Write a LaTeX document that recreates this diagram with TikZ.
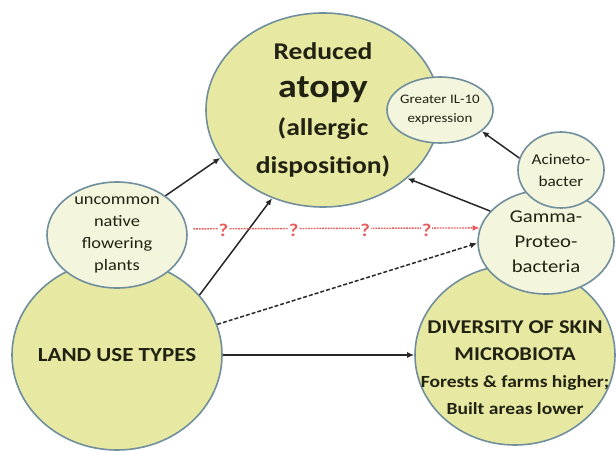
\documentclass[tikz,border=0pt]{standalone}
\usepackage{fontspec}
\setmainfont{Carlito}[FakeStretch=1.15]
\usetikzlibrary{shapes.geometric,arrows.meta,positioning}
\definecolor{edgeblue}{RGB}{112,142,156}
\definecolor{bigfill}{RGB}{231,233,163}
\definecolor{smallfill}{RGB}{243,245,220}
\definecolor{inkdark}{RGB}{34,34,18}
\definecolor{arrowgray}{RGB}{40,40,40}
\definecolor{qred}{RGB}{232,92,92}
\newcommand{\fs}[2]{\fontsize{#1}{#2}\selectfont}
\tikzset{
  bigcirc/.style={ellipse, draw=edgeblue, fill=bigfill, line width=1.6pt,
    inner sep=-15pt, text=inkdark, align=center},
  smallcirc/.style={bigcirc, fill=smallfill},
  link/.style={-{Latex[length=7pt,width=6pt]}, line width=1.5pt, draw=arrowgray},
  qline/.style={-{Latex[length=7pt,width=6pt]}, line width=1.4pt, draw=qred,
    dash pattern=on 1.8pt off 1pt},
  qmark/.style={text=qred, fill=white, inner sep=.8pt, yshift=-2pt,
    font=\bfseries\fs{18}{18}}
}
\begin{document}
\begin{tikzpicture}[x=1pt,y=-1pt]
  \useasboundingbox (0,0) rectangle (616,450);
  \node[bigcirc, minimum width=200pt, minimum height=180pt] (skin) at (515,355) {};
  \node[text=inkdark, align=center, font=\bfseries\fs{19.5}{27}] (skintext)
    at ([yshift=-13pt]skin.center)
    {DIVERSITY OF SKIN\\ MICROBIOTA\\ {\fs{17}{23}Forests \& farms higher;}\\
     {\fs{17}{23}Built areas lower}};
  \node[smallcirc, minimum width=136pt, minimum height=104pt, font=\fs{18}{25}]
    (gamma) at (546,242) {Gamma-\\ Proteo-\\ bacteria};
  \node[smallcirc, minimum width=86pt, minimum height=76pt, font=\fs{15}{22}]
    (acineto) at (561,170) {Acineto-\\ bacter};
  \node[bigcirc, minimum width=210pt, minimum height=190pt, font=\bfseries\fs{20}{24}]
    (landuse) at (117,355) {LAND USE TYPES};
  \node[smallcirc, minimum width=140pt, minimum height=106pt, font=\fs{16}{22}]
    (uncommon) at (117,235) {uncommon\\ native\\ flowering\\ plants};
  \node[bigcirc, minimum width=234pt, minimum height=194pt, font=\bfseries\fs{24}{38}]
    (atopy) at (323,110) {Reduced\\ {\fs{33}{38}atopy}\\ (allergic\\ disposition)};
  \node[smallcirc, minimum width=106pt, minimum height=66pt, font=\fs{13}{19}]
    (il10) at (440,110) {Greater IL-10\\ expression};

  \draw[link] (uncommon.39) -- (atopy.205);
  \draw[link] (landuse.36) -- (atopy.240);
  \draw[link, dash pattern=on 4pt off 2pt] (landuse.17) -- (gamma.181);
  \draw[link] (landuse.east) -- (skin.west);
  \draw[link] (gamma.151) -- (atopy.321);
  \draw[link] (acineto.164) -- (il10.333);
  \draw[qline] ([xshift=6pt]uncommon.5) --
    node[qmark, pos=.105] {?} node[qmark, pos=.35] {?}
    node[qmark, pos=.6] {?} node[qmark, pos=.815] {?} (gamma.168);
\end{tikzpicture}
\end{document}
